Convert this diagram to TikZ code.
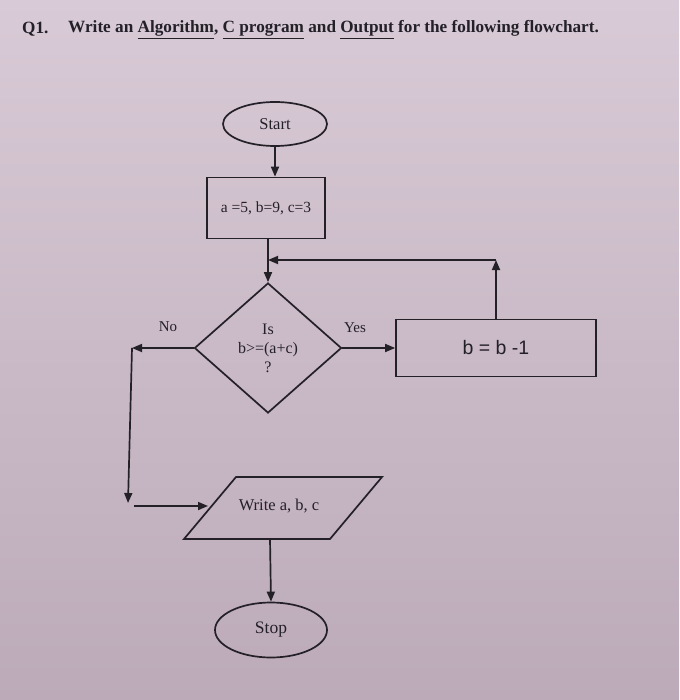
\documentclass[tikz,border=0pt]{standalone}
\usepackage{fontspec}
\setmainfont{Liberation Serif}
\newfontfamily\arialf{Liberation Sans}
\usetikzlibrary{shapes.geometric,arrows.meta}
\definecolor{bgtop}{RGB}{216,202,214}
\definecolor{bgbot}{RGB}{188,170,184}
\definecolor{ink}{RGB}{35,32,40}
\begin{document}
\begin{tikzpicture}[x=1pt,y=-1pt,
  shp/.style={draw=ink, line width=1.7pt, inner sep=0pt, text=ink},
  term/.style={shp, ellipse, font=\fontsize{16.5}{19}\selectfont},
  procbox/.style={shp, rectangle, font=\fontsize{15.5}{18}\selectfont},
  decis/.style={shp, diamond, align=center, font=\fontsize{16}{19}\selectfont},
  arr/.style={draw=ink, line width=1.7pt, -{Triangle[length=10pt,width=8pt]}},
  lin/.style={draw=ink, line width=1.7pt},
  lbl/.style={text=ink, inner sep=0pt, font=\fontsize{15}{17}\selectfont},
  ttl/.style={text=ink, inner sep=0pt, anchor=base west, font=\bfseries\fontsize{17.2}{20}\selectfont}]
\shade[top color=bgtop, bottom color=bgbot] (0,0) rectangle (679,700);
\useasboundingbox (0,0) rectangle (679,700);

% title
\node[ttl] (q) at (22,34) {Q1.};
\node[ttl] (title) at (68,33) {Write an \underline{Algorithm}, \underline{C program} and \underline{Output} for the following flowchart.};

% nodes
\node[term, minimum width=104pt, minimum height=44pt] (start) at (275,124) {Start};
\node[procbox, minimum width=118pt, minimum height=61pt] (init) at (266,208) {a =5, b=9, c=3};
\node[decis, minimum width=147pt, minimum height=130pt] (dec) at (268,348) {Is\\b>=(a+c)\\?};
\node[shp, rectangle, minimum width=200pt, minimum height=57pt, font=\arialf\fontsize{19.5}{22}\selectfont] (upd) at (496,348) {b = b -1};
\node[term, minimum width=112pt, minimum height=55pt, font=\fontsize{17.5}{20}\selectfont] (stop) at (271,630) {Stop};

% parallelogram (output)
\coordinate (ptl) at (236,477);
\coordinate (ptr) at (382,477);
\coordinate (pbr) at (330,539);
\coordinate (pbl) at (184,539);
\draw[lin, line join=miter] (ptl) -- (ptr) -- (pbr) -- (pbl) -- cycle;
\node[text=ink, inner sep=0pt, font=\fontsize{16.5}{19}\selectfont] (out) at (279,506) {Write a, b, c};
\coordinate (outbot) at (270,539);
\coordinate (outleft) at (208,506);

% labels
\node[lbl] (nolbl) at (168,327) {No};
\node[lbl] (yeslbl) at (355,328) {Yes};

% helper coordinates
\coordinate (J) at (268,260);
\coordinate (C) at (496,260);
\coordinate (N1) at (132,348);
\coordinate (N2) at (128,503);
\coordinate (N3) at (134,506);

% connectors
\draw[arr] (start.south) -- (start.south |- init.north);
\draw[lin] (init.south -| J) -- (J);
\draw[arr] (J) -- (dec.north);
\draw[arr] (upd.north) -- (C);
\draw[arr] (C) -- (J);
\draw[arr] (dec.east) -- (upd.west);
\draw[arr] (dec.west) -- (N1);
\draw[arr] (N1) -- (N2);
\draw[arr] (N3) -- (outleft);
\draw[arr] (outbot) -- (stop.north);
\end{tikzpicture}
\end{document}
